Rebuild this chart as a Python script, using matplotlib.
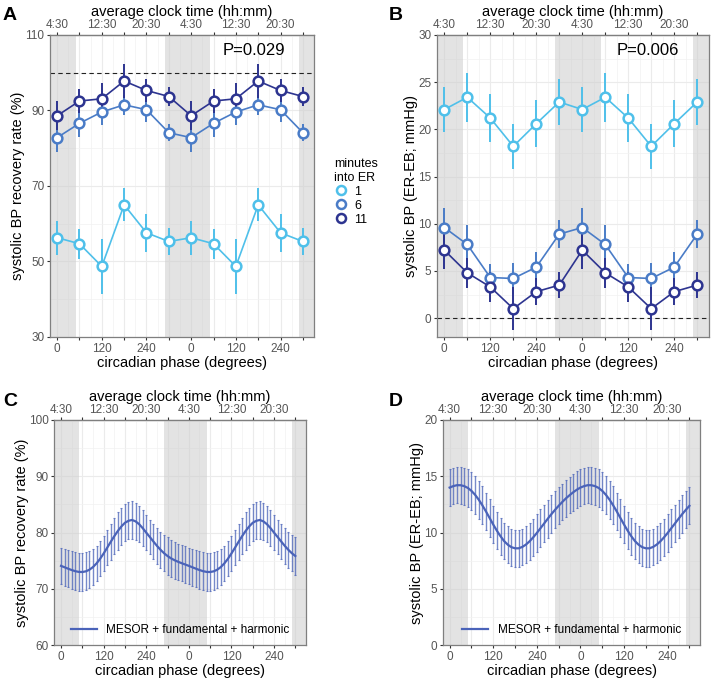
import numpy as np
import matplotlib.pyplot as plt
from matplotlib.lines import Line2D

plt.rcParams['font.family'] = ['Liberation Sans', 'DejaVu Sans']

# circadian phase of the six bins (degrees); the data is double plotted
phase = [0, 60, 120, 180, 240, 300]

# panel A - systolic BP recovery rate (%)
rec_1 = [56.3, 54.7, 48.7, 65.0, 57.6, 55.3]
rec_1_err = [4.5, 4.0, 7.3, 4.4, 5.0, 3.5]
rec_6 = [82.8, 86.6, 89.6, 91.5, 90.2, 84.1]
rec_6_err = [3.8, 3.6, 3.5, 2.6, 3.2, 2.3]
rec_11 = [88.6, 92.5, 93.1, 97.8, 95.3, 93.7]
rec_11_err = [3.9, 3.3, 4.3, 4.5, 3.0, 2.6]

# panel B - systolic BP (ER-EB; mmHg)
bp_1 = [22.1, 23.4, 21.2, 18.2, 20.6, 22.9]
bp_1_err = [2.4, 2.6, 2.5, 2.4, 2.5, 2.4]
bp_6 = [9.6, 7.8, 4.3, 4.2, 5.4, 8.9]
bp_6_err = [2.1, 2.1, 1.4, 1.6, 1.6, 1.5]
bp_11 = [7.2, 4.8, 3.3, 1.0, 2.8, 3.5]
bp_11_err = [2.0, 1.6, 1.6, 2.3, 1.4, 1.4]

# panels C and D - fitted curve (MESOR + fundamental + harmonic), every 10 degrees
fit_phase = list(range(0, 360, 10))
fit_rec = [74.10, 73.85, 73.60, 73.36, 73.16, 73.03, 73.01, 73.13, 73.42, 73.89,
           74.54, 75.35, 76.30, 77.32, 78.37, 79.37, 80.30, 81.10, 81.75, 82.10,
           82.25, 82.00, 81.50, 80.80, 80.00, 79.23, 78.44, 77.67, 76.97, 76.36,
           75.85, 75.43, 75.10, 74.82, 74.57, 74.34]
fit_rec_err = [3.20, 3.25, 3.30, 3.35, 3.40, 3.40, 3.40, 3.35, 3.30, 3.20,
               3.15, 3.10, 3.10, 3.15, 3.20, 3.25, 3.30, 3.30, 3.30, 3.30,
               3.30, 3.25, 3.20, 3.15, 3.10, 3.10, 3.10, 3.15, 3.20, 3.25,
               3.30, 3.30, 3.30, 3.25, 3.20, 3.20]
fit_bp = [14.00, 14.13, 14.21, 14.21, 14.13, 13.97, 13.71, 13.36, 12.93, 12.43,
          11.88, 11.30, 10.72, 10.17, 9.68, 9.25, 8.93, 8.71, 8.61, 8.61,
          8.73, 8.94, 9.23, 9.58, 9.97, 10.39, 10.81, 11.23, 11.64, 12.02,
          12.38, 12.72, 13.04, 13.32, 13.58, 13.81]
fit_bp_err = [1.62, 1.62, 1.62, 1.63, 1.64, 1.65, 1.66, 1.67, 1.68, 1.68,
              1.67, 1.66, 1.65, 1.64, 1.64, 1.63, 1.63, 1.63, 1.63, 1.63,
              1.63, 1.64, 1.64, 1.65, 1.66, 1.67, 1.67, 1.67, 1.66, 1.65,
              1.64, 1.63, 1.62, 1.62, 1.62, 1.62]

minutes = ['1', '6', '11']
colors = ['#4fc0ea', '#4a7cc7', '#2d3490']
fit_color = '#4a63b9'
nights = [(-40, 50), (290, 410), (650, 700)]

clock_labels = ['4:30', '', '12:30', '', '20:30', '']
phase_labels = ['0', '', '120', '', '240', '']


def double(vals):
    return list(vals) + list(vals)


def style_panel(ax, ylim, yticks, yminor, ylabel):
    ax.set_xlim(-19, 680)
    ax.set_ylim(*ylim)
    for a, b in nights:
        ax.axvspan(a, b, color='#cccccc', alpha=0.55, lw=0, zorder=1)
    ticks = [p + 360 * k for k in (0, 1) for p in phase]
    ax.set_xticks(ticks, phase_labels * 2)
    ax.set_xticks([t + 30 for t in ticks], minor=True)
    ax.set_yticks(yticks)
    ax.set_yticks(yminor, minor=True)
    ax.set_axisbelow(True)
    ax.grid(which='major', color='#ebebeb', lw=0.8)
    ax.grid(which='minor', color='#f2f2f2', lw=0.5)
    ax.tick_params(which='major', length=2.5, color='#333333', labelsize=8.5,
                   labelcolor='#555555', pad=1.5)
    ax.tick_params(which='minor', length=0)
    for s in ax.spines.values():
        s.set_color('#7f7f7f')
        s.set_linewidth(0.9)
    ax.set_xlabel('circadian phase (degrees)', fontsize=10.5, labelpad=1)
    ax.set_ylabel(ylabel, fontsize=10.5, labelpad=0)
    top = ax.secondary_xaxis('top')
    top.set_xticks(ticks, clock_labels * 2)
    top.tick_params(length=2.2, color='#333333', labelsize=8.5, labelcolor='#555555', pad=0.5)
    top.set_xlabel('average clock time (hh:mm)', fontsize=10.5, labelpad=2.5)


fig = plt.figure(figsize=(7.22, 6.83), dpi=100)
axA = fig.add_axes([0.0693, 0.5066, 0.3657, 0.4422])
axB = fig.add_axes([0.6053, 0.5066, 0.3763, 0.4422])
axC = fig.add_axes([0.0752, 0.0552, 0.3486, 0.3299])
axD = fig.add_axes([0.6132, 0.0552, 0.3568, 0.3299])

x2 = phase + [p + 360 for p in phase]

# panel A
style_panel(axA, (30, 110), [30, 50, 70, 90, 110], [40, 60, 80, 100],
            'systolic BP recovery rate (%)')
axA.axhline(100, color='#222222', lw=0.8, ls=(0, (4, 3)), zorder=2)
for vals, errs, c in zip([rec_1, rec_6, rec_11], [rec_1_err, rec_6_err, rec_11_err], colors):
    axA.errorbar(x2, double(vals), yerr=double(errs), color=c, lw=1.2, elinewidth=1.4,
                 marker='o', ms=7, mfc='white', mec=c, mew=1.8, capsize=0, zorder=3)
axA.text(528, 106, 'P=0.029', fontsize=12, ha='center', va='center')

# panel B
style_panel(axB, (-2.0, 30), [0, 5, 10, 15, 20, 25, 30], [2.5, 7.5, 12.5, 17.5, 22.5, 27.5],
            'systolic BP (ER-EB; mmHg)')
axB.axhline(0, color='#222222', lw=0.8, ls=(0, (4, 3)), zorder=2)
for vals, errs, c in zip([bp_1, bp_6, bp_11], [bp_1_err, bp_6_err, bp_11_err], colors):
    axB.errorbar(x2, double(vals), yerr=double(errs), color=c, lw=1.2, elinewidth=1.4,
                 marker='o', ms=7, mfc='white', mec=c, mew=1.8, capsize=0, zorder=3)
axB.text(530, 28.4, 'P=0.006', fontsize=12, ha='center', va='center')

# legend between A and B
handles = [Line2D([], [], ls='none', marker='o', ms=6.5, mfc='white', mec=c, mew=1.8)
           for c in colors]
fig.legend(handles, minutes, title='minutes\ninto ER', loc='upper left',
           bbox_to_anchor=(0.447, 0.785), frameon=False, fontsize=9, title_fontsize=9,
           alignment='left', handletextpad=0.4, labelspacing=0.15, handlelength=1.2)

# panels C and D
fx = fit_phase + [p + 360 for p in fit_phase if p <= 300]
for ax, vals, errs, ylim, yt, ym, lab in [
        (axC, fit_rec, fit_rec_err, (60, 100), [60, 70, 80, 90, 100], [65, 75, 85, 95],
         'systolic BP recovery rate (%)'),
        (axD, fit_bp, fit_bp_err, (0, 20), [0, 5, 10, 15, 20], [2.5, 7.5, 12.5, 17.5],
         'systolic BP (ER-EB; mmHg)')]:
    style_panel(ax, ylim, yt, ym, lab)
    fy = vals + vals[:31]
    fe = errs + errs[:31]
    ax.errorbar(fx, fy, yerr=fe, fmt='none', ecolor=fit_color, alpha=0.75,
                elinewidth=1.0, capsize=1, capthick=0.8, zorder=3)
    ax.plot(fx, fy, color=fit_color, lw=1.6, zorder=4,
            label='MESOR + fundamental + harmonic')
    ax.legend(loc='lower center', bbox_to_anchor=(0.5, 0.0), frameon=False, fontsize=8.5,
              handlelength=2.2, borderaxespad=0.4)

for txt, x, y in [('A', 0.004, 0.99), ('B', 0.538, 0.99), ('C', 0.004, 0.425), ('D', 0.538, 0.425)]:
    fig.text(x, y, txt, fontsize=14, fontweight='bold', va='top')

fig.savefig('out.png', dpi=100)
